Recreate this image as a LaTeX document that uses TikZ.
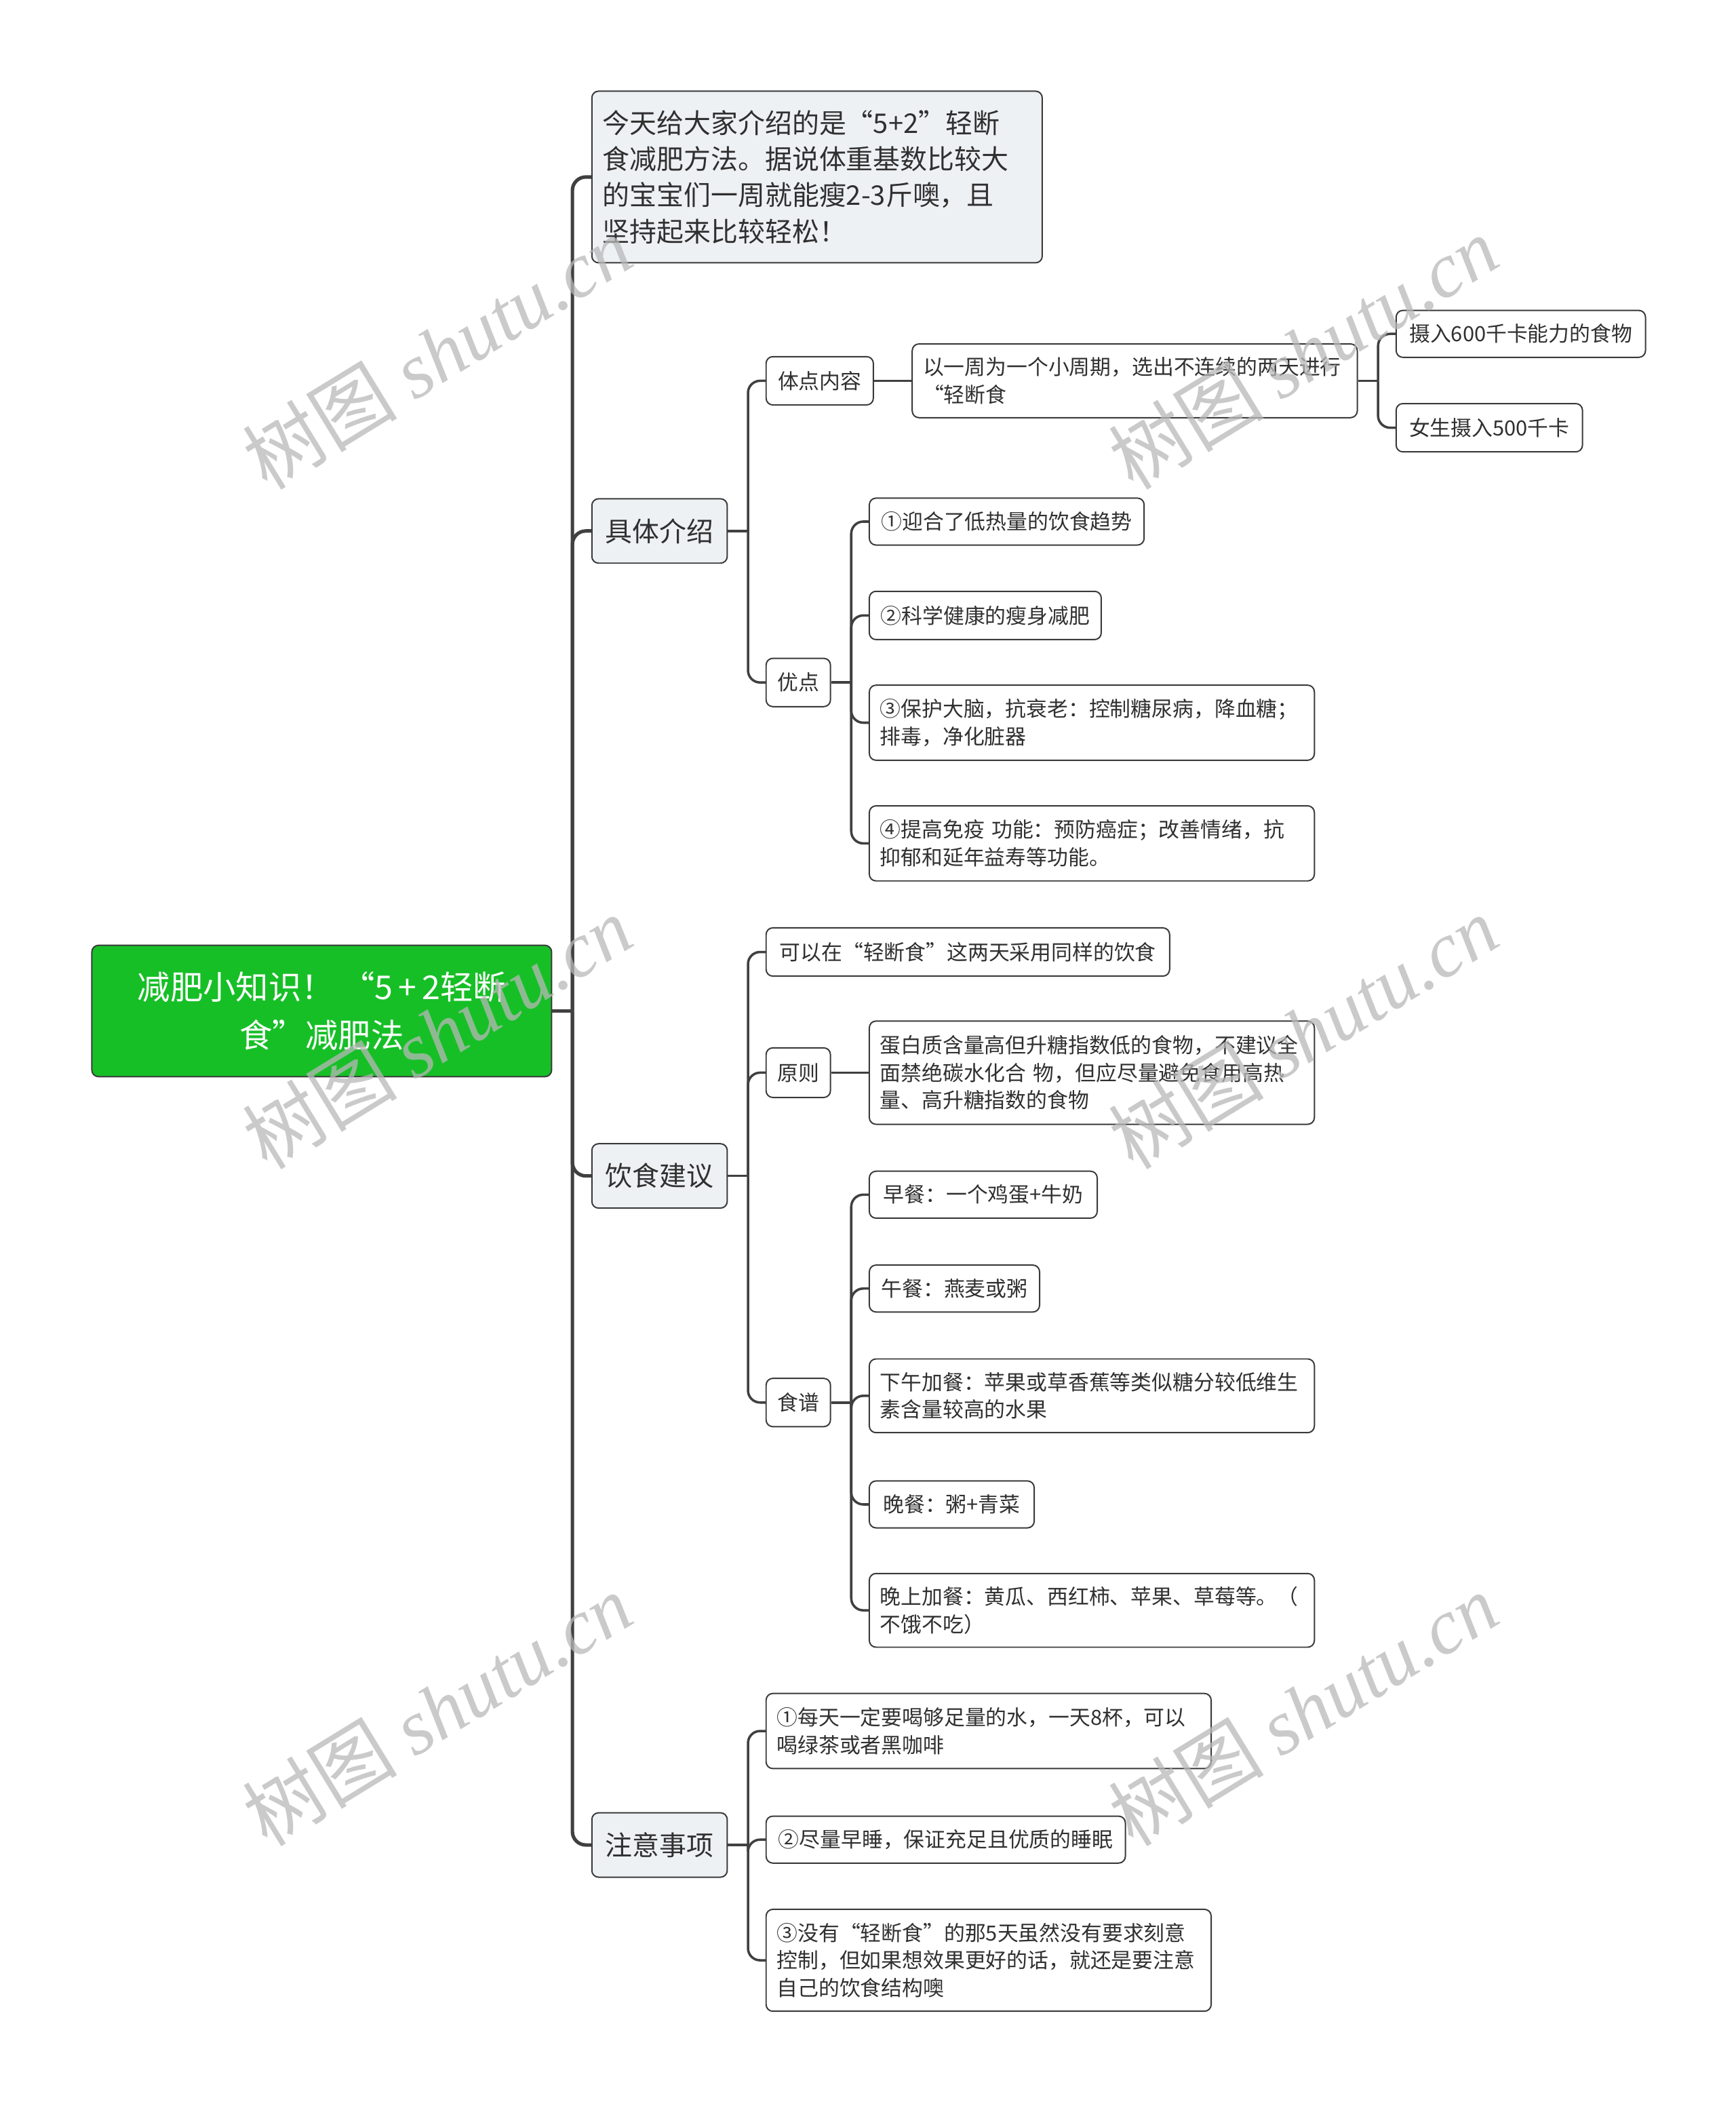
\documentclass[tikz,border=0pt]{standalone}
\usepackage{fontspec}
\setmainfont{Noto Sans CJK SC}
\newfontfamily\wmlatin{Liberation Serif}
\usetikzlibrary{calc}
\definecolor{txt}{HTML}{303030}
\definecolor{bd}{HTML}{3A3A3A}
\definecolor{cn}{HTML}{404040}
\definecolor{lf}{HTML}{EEF1F4}
\definecolor{gr}{HTML}{17BF27}
\definecolor{wm}{HTML}{B8B8B8}
\tikzset{
  box/.style={draw=bd, line width=1pt, rounded corners=5pt, fill=white, text=txt,
    inner xsep=8pt, inner ysep=0pt, anchor=west, align=left},
  sm/.style={box, font=\fontsize{15.6}{20.5}\selectfont},
  big/.style={box, fill=lf, font=\fontsize{20.2}{27}\selectfont},
  wh/.style 2 args={minimum width=#1pt, minimum height=#2pt},
  trunk/.style={draw=cn, line width=2.6pt, rounded corners=10pt},
  br/.style={draw=cn, line width=1.8pt, rounded corners=9pt},
  wmark/.style={rotate=31.5, text=wm, text opacity=0.75, font=\fontsize{58}{60}\selectfont}
}
\begin{document}
\begin{tikzpicture}[x=1pt,y=-1pt]
\useasboundingbox (0,0) rectangle (1295,1567.7);

% root
\node[box, fill=gr, draw=bd, text=white, align=center, anchor=west, wh={343}{98},
  font=\fontsize{24.5}{36}\selectfont] (root) at (68,754)
  {减肥小知识！ “5\,+\,2轻断\\食”减肥法};

% level 1
\node[big, text width=320pt, wh={336}{128}] (t0) at (441,132)
  {今天给大家介绍的是“5+2”轻断\\食减肥方法。据说体重基数比较大\\的宝宝们一周就能瘦2-3斤噢，且\\坚持起来比较轻松！};
\node[big, wh={101}{48}] (js) at (441,396) {具体介绍};
\node[big, wh={101}{48}] (ys) at (441,877) {饮食建议};
\node[big, wh={101}{48}] (zy) at (441,1376) {注意事项};

% 具体介绍 children
\node[sm, wh={80}{36}] (td) at (571,284) {体点内容};
\node[sm, wh={48}{36}] (yd) at (571,509) {优点};
\node[sm, text width=316pt, wh={332}{55}] (zq) at (680,284)
  {以一周为一个小周期，选出不连续的两天进行\\“轻断食};
\node[sm, wh={186}{35}] (s600) at (1041,249) {摄入600千卡能力的食物};
\node[sm, wh={139}{36}] (s500) at (1041,319) {女生摄入500千卡};
\node[sm, wh={205}{35}] (y1) at (648,389) {①迎合了低热量的饮食趋势};
\node[sm, wh={173}{36}] (y2) at (648,459) {②科学健康的瘦身减肥};
\node[sm, text width=316pt, wh={332}{56}] (y3) at (648,539)
  {③保护大脑，抗衰老：控制糖尿病，降血糖；\\排毒，净化脏器};
\node[sm, text width=316pt, wh={332}{56}] (y4) at (648,629)
  {④提高免疫 功能：预防癌症；改善情绪，抗\\抑郁和延年益寿等功能。};

% 饮食建议 children
\node[sm, wh={301}{36}] (kx) at (571,710) {可以在“轻断食”这两天采用同样的饮食};
\node[sm, wh={48}{37}] (yz) at (571,800) {原则};
\node[sm, wh={48}{36}] (sp) at (571,1046) {食谱};
\node[sm, text width=316pt, wh={332}{77}] (db) at (648,800)
  {蛋白质含量高但升糖指数低的食物，不建议全\\面禁绝碳水化合 物，但应尽量避免食用高热\\量、高升糖指数的食物};
\node[sm, wh={170}{35}] (zc) at (648,891) {早餐：一个鸡蛋+牛奶};
\node[sm, wh={127}{35}] (wc) at (648,961) {午餐：燕麦或粥};
\node[sm, text width=316pt, wh={332}{55}] (xw) at (648,1041)
  {下午加餐：苹果或草香蕉等类似糖分较低维生\\素含量较高的水果};
\node[sm, wh={123}{35}] (wanc) at (648,1122) {晚餐：粥+青菜};
\node[sm, text width=316pt, wh={332}{55}] (wsj) at (648,1201)
  {晚上加餐：黄瓜、西红柿、苹果、草莓等。（\\不饿不吃）};

% 注意事项 children
\node[sm, text width=316pt, wh={332}{56}] (z1) at (571,1291)
  {①每天一定要喝够足量的水，一天8杯，可以\\喝绿茶或者黑咖啡};
\node[sm, wh={268}{35}] (z2) at (571,1372) {②尽量早睡，保证充足且优质的睡眠};
\node[sm, text width=316pt, wh={332}{76}] (z3) at (571,1462)
  {③没有“轻断食”的那5天虽然没有要求刻意\\控制，但如果想效果更好的话，就还是要注意\\自己的饮食结构噢};

% junctions
\coordinate (J0) at ($(root.east)+(15,0)$);
\coordinate (Jjs) at ($(js.east)+(15,0)$);
\coordinate (Jys) at ($(ys.east)+(15,0)$);
\coordinate (Jzy) at ($(zy.east)+(15,0)$);
\coordinate (Jzq) at ($(zq.east)+(15,0)$);
\coordinate (Jyd) at ($(yd.east)+(15,0)$);
\coordinate (Jsp) at ($(sp.east)+(15,0)$);

% trunk
\draw[trunk] (root.east) -- (J0);
\foreach \c in {t0,js,ys,zy} \draw[trunk] (J0) |- (\c.west);

% branches
\draw[br] (js.east) -- (Jjs);
\foreach \c in {td,yd} \draw[br] (Jjs) |- (\c.west);
\draw[br] (td.east) -- (zq.west);
\draw[br] (zq.east) -- (Jzq);
\foreach \c in {s600,s500} \draw[br] (Jzq) |- (\c.west);
\draw[br] (yd.east) -- (Jyd);
\foreach \c in {y1,y2,y3,y4} \draw[br] (Jyd) |- (\c.west);

\draw[br] (ys.east) -- (Jys);
\foreach \c in {kx,yz,sp} \draw[br] (Jys) |- (\c.west);
\draw[br] (yz.east) -- (db.west);
\draw[br] (sp.east) -- (Jsp);
\foreach \c in {zc,wc,xw,wanc,wsj} \draw[br] (Jsp) |- (\c.west);

\draw[br] (zy.east) -- (Jzy);
\foreach \c in {z1,z2,z3} \draw[br] (Jzy) |- (\c.west);

% watermarks
\node[wmark] (wm1) at (326,263) {树图 {\wmlatin\itshape shutu.cn}};
\node[wmark] (wm2) at (972,263) {树图 {\wmlatin\itshape shutu.cn}};
\node[wmark] (wm3) at (326,770) {树图 {\wmlatin\itshape shutu.cn}};
\node[wmark] (wm4) at (972,770) {树图 {\wmlatin\itshape shutu.cn}};
\node[wmark] (wm5) at (326,1275) {树图 {\wmlatin\itshape shutu.cn}};
\node[wmark] (wm6) at (972,1275) {树图 {\wmlatin\itshape shutu.cn}};
\end{tikzpicture}
\end{document}
